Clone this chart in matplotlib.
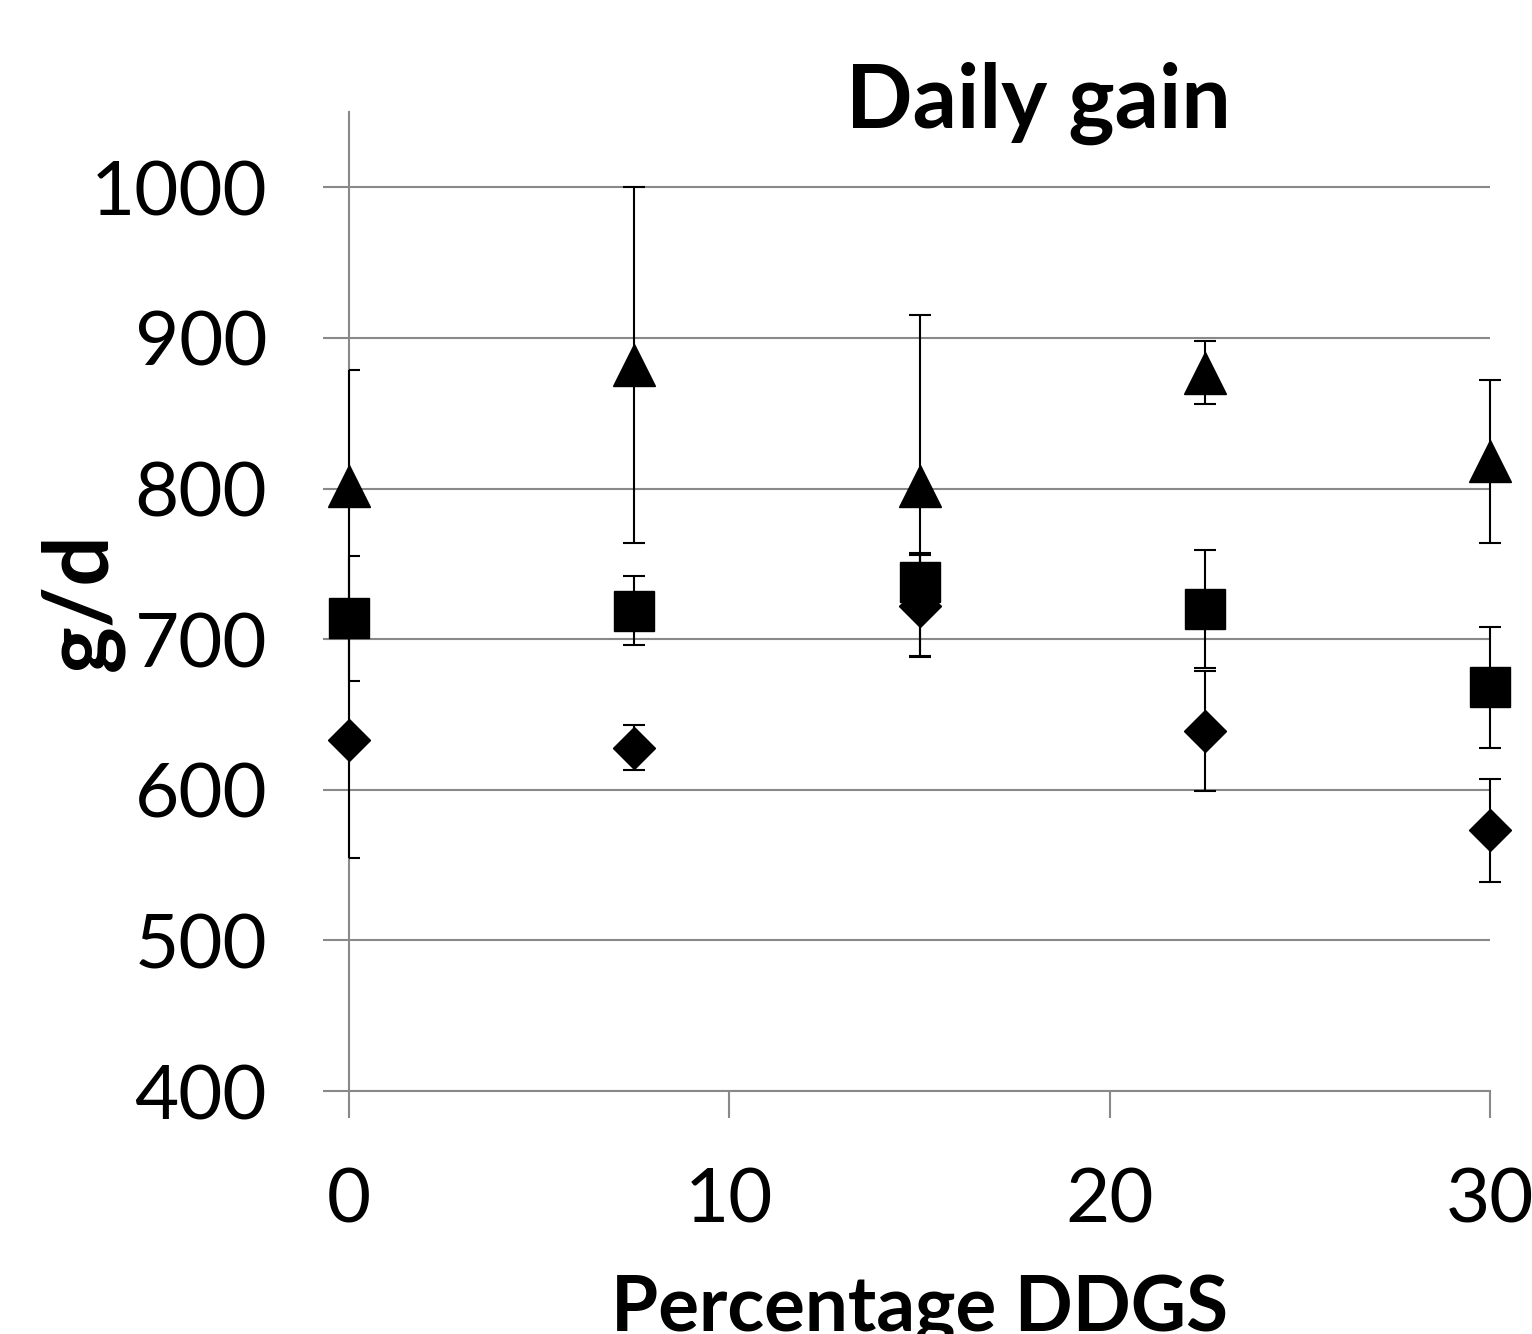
import matplotlib
matplotlib.use("Agg")
import matplotlib.pyplot as plt
from matplotlib.patches import Rectangle

plt.rcParams['font.family'] = ['Lato', 'DejaVu Sans']

# Data
ddgs = [0, 7.5, 15, 22.5, 30]
diamond_vals = [633, 628, 722, 639, 573]
diamond_err = [78, 15, 34, 40, 34]
square_vals = [714, 719, 738, 720, 668]
square_err = [41.5, 23, 19.5, 39, 40]
triangle_vals = [802, 882, 802, 877, 818]
triangle_err = [77, 118, 113, 21, 54]
xticks = [0, 10, 20, 30]
yticks = [400, 500, 600, 700, 800, 900, 1000]

W, H = 1532, 1334
fig = plt.figure(figsize=(W / 100, H / 100), dpi=100)
ax = fig.add_axes([349 / W, 1 - 1091 / H, (1490 - 349) / W, (1091 - 112) / H])

grey = '#898989'
ax.set_xlim(0, 30)
ax.set_ylim(400, 1050)
ax.set_xticks(xticks)
ax.set_yticks(yticks)
ax.yaxis.grid(True, color=grey, linewidth=1.5)
ax.set_axisbelow(True)
for s in ['top', 'right']:
    ax.spines[s].set_visible(False)
for s in ['left', 'bottom']:
    ax.spines[s].set_color(grey)
    ax.spines[s].set_linewidth(1.5)
ax.tick_params(axis='both', direction='out', color=grey, width=1.5,
               labelsize=55, labelcolor='black')
ax.tick_params(axis='y', length=19, pad=40)
ax.tick_params(axis='x', length=19.5, pad=35)

clip = Rectangle((0, -0.1), 1.1, 1.2, transform=ax.transAxes, facecolor='none', edgecolor='none')
fig.add_artist(clip)

series = [
    (diamond_vals, diamond_err, 'D', 21.5),
    (square_vals, square_err, 's', 29.5),
    (triangle_vals, triangle_err, '^', 30),
]
for i, (vals, err, mk, ms) in enumerate(series):
    line, caps, bars = ax.errorbar(ddgs, vals, yerr=err, fmt=mk, color='black',
                                   markersize=ms, ecolor='black', elinewidth=1.5,
                                   capsize=8, capthick=1.5, zorder=3 + i)
    line.set_clip_on(False)
    for c in caps:
        c.set_clip_path(clip)
    for b in bars:
        b.set_clip_on(False)

ax.set_xlabel('Percentage DDGS', fontsize=55, fontweight='bold', labelpad=28)
ax.set_ylabel('g/d', fontsize=64, fontweight='bold', labelpad=-24)
fig.text(1038 / W, 1 - 128 / H, 'Daily gain', fontsize=63, fontweight='bold',
         ha='center', va='baseline')

fig.savefig('out.png', dpi=100)
